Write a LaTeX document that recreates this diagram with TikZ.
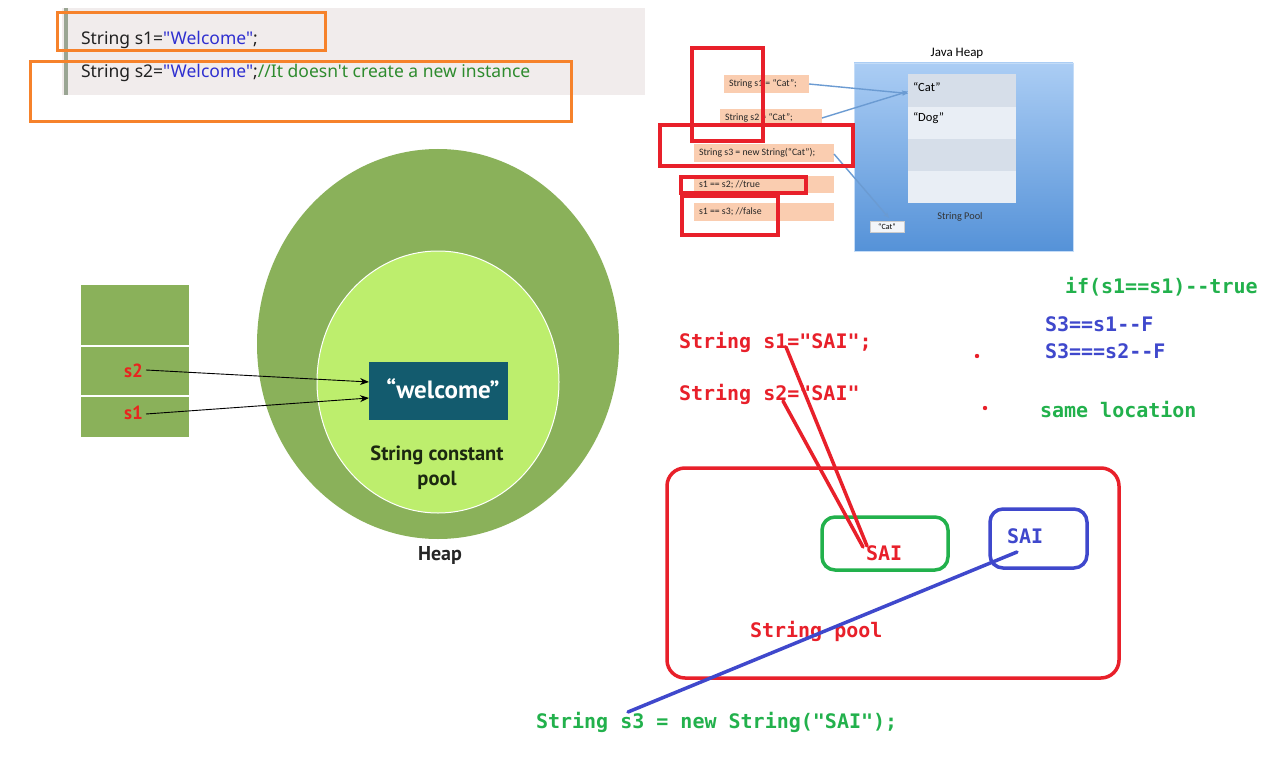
\documentclass[tikz,border=0pt]{standalone}
\usepackage{fontspec}
\setmainfont{Noto Sans}
\newfontfamily\codef[Ligatures=TeXOff]{Noto Sans}
\newfontfamily\monof[Ligatures=TeXOff]{DejaVu Sans Mono}
\newfontfamily\diagf{PT Sans}
\newfontfamily\heapf{Carlito}
\usetikzlibrary{arrows.meta,shapes.geometric}
\definecolor{orangeb}{HTML}{F6822B}
\definecolor{codebg}{HTML}{F1ECEC}
\definecolor{codebar}{HTML}{9AA593}
\definecolor{codeblack}{HTML}{222222}
\definecolor{codeblue}{HTML}{2F2FD0}
\definecolor{codegreen}{HTML}{2E8B2E}
\definecolor{heapgreen}{HTML}{8AB15A}
\definecolor{poolgreen}{HTML}{BDEE6D}
\definecolor{tealbox}{HTML}{135B6E}
\definecolor{darktext}{HTML}{1C2810}
\definecolor{lblred}{HTML}{E8251F}
\definecolor{pred}{HTML}{E8202A}
\definecolor{pgreen}{HTML}{22B14C}
\definecolor{pblue}{HTML}{3F48CC}
\definecolor{salmon}{HTML}{FACDB0}
\definecolor{jblueT}{HTML}{ABCDF4}
\definecolor{jblueB}{HTML}{5592D8}
\definecolor{rowA}{HTML}{D6DEE9}
\definecolor{rowB}{HTML}{E9EEF5}
\definecolor{jarrow}{HTML}{6B9BD2}
\begin{document}
\begin{tikzpicture}[x=1pt,y=-1pt,
  every node/.style={inner sep=0pt, outer sep=0pt},
  nw/.style={anchor=north west},
  obox/.style={nw, draw=orangeb, line width=3pt},
  rbox/.style={nw, draw=pred, line width=3.5pt},
  sbox/.style={nw, fill=salmon, minimum height=18pt},
  stxt/.style={anchor=west, font=\heapf\fontsize{9.8}{11}\selectfont, text=black!85},
  row/.style={nw, minimum width=108pt},
  cell/.style={nw, fill=heapgreen, draw=white, line width=1.5pt, minimum width=110pt},
  codetxt/.style={anchor=west, font=\codef\fontsize{17.5}{20}\selectfont},
  mono/.style={anchor=west, font=\monof\bfseries\fontsize{20}{24}\selectfont},
  monor/.style={mono, text=pred},
  pen/.style={line width=3.5pt, line cap=round},
  blk/.style={-{Stealth[length=9pt,width=7pt]}, line width=0.9pt},
  jarr/.style={-{Stealth[length=6pt,width=5pt]}, draw=jarrow, line width=1.4pt}
]
\useasboundingbox (0,0) rectangle (1280,781);
\fill[white] (0,0) rectangle (1280,781);

% ---------- top-left code box ----------
\node[nw, fill=codebg, minimum width=583pt, minimum height=87pt] (codebox) at (62,8) {};
\node[nw, fill=codebar, minimum width=4pt, minimum height=87pt] (codebar) at (64,8) {};
\node[codetxt] (c1) at (81,40) {\color{codeblack}String s1=\color{codeblue}"Welcome"\color{codeblack};};
\node[codetxt] (c2) at (81,73) {\color{codeblack}String s2=\color{codeblue}"Welcome"\color{codeblack};\color{codegreen}//It doesn't create a new instance};
\node[obox, minimum width=268pt, minimum height=38pt] (o1) at (57,13) {};
\node[obox, minimum width=541pt, minimum height=60pt] (o2) at (30,62) {};

% ---------- Java heap picture ----------
\node[nw, minimum width=219pt, minimum height=188pt, top color=jblueT, bottom color=jblueB, draw=jblueT!70!white, line width=0.6pt] (jheap) at (854,63) {};
\node[font=\heapf\fontsize{13}{15}\selectfont] (jtitle) at (957,53) {Java Heap};
\node[row, fill=rowA, minimum height=33pt] (row1) at (908,74) {};
\node[row, fill=rowB, minimum height=32pt] (row2) at (908,107) {};
\node[row, fill=rowA, minimum height=32pt] (row3) at (908,139) {};
\node[row, fill=rowB, minimum height=32pt] (row4) at (908,171) {};
\node[anchor=west, font=\heapf\fontsize{12.5}{14}\selectfont] (tcat) at (913,87) {“Cat”};
\node[anchor=west, font=\heapf\fontsize{12.5}{14}\selectfont] (tdog) at (913,118) {“Dog”};
\node[font=\heapf\fontsize{10.3}{12}\selectfont, text=black!80] (spool) at (960,217) {String Pool};
\node[nw, fill=rowB!60!white, draw=gray!40, line width=0.4pt, minimum width=34pt, minimum height=11pt] (catsmall) at (870,221) {};
\node[font=\heapf\fontsize{8}{9}\selectfont] (catsmalltxt) at (catsmall.center) {“Cat”};

\node[sbox, minimum width=85pt] (sb1) at (724,75) {};
\node[sbox, minimum width=102pt] (sb2) at (720,109) {};
\node[sbox, minimum width=140pt] (sb3) at (694,144) {};
\node[sbox, minimum width=140pt, minimum height=17pt] (sb4) at (694,176) {};
\node[sbox, minimum width=140pt] (sb5) at (694,203) {};
\node[stxt] (st1) at ([xshift=5pt]sb1.west) {String s1 = “Cat”;};
\node[stxt] (st2) at ([xshift=5pt]sb2.west) {String s2 = “Cat”;};
\node[stxt] (st3) at ([xshift=5pt]sb3.west) {String s3 = new String(“Cat”);};
\node[stxt] (st4) at ([xshift=5pt]sb4.west) {s1 == s2; //true};
\node[stxt] (st5) at ([xshift=5pt]sb5.west) {s1 == s3; //false};

\draw[jarr] (sb1.east) -- ([yshift=-3pt]row1.west);
\draw[jarr] (sb2.east) -- ([yshift=-1pt]row1.west);
\draw[jarr] ([yshift=-1pt]sb3.east) -- ([xshift=2pt,yshift=3pt]catsmall.north);

\node[rbox, minimum width=71pt, minimum height=93pt] (rb1) at (692,48) {};
\node[rbox, minimum width=193pt, minimum height=41pt] (rb2) at (660,125) {};
\node[rbox, minimum width=125pt, minimum height=16pt] (rb3) at (681,177) {};
\node[rbox, minimum width=96pt, minimum height=39pt] (rb4) at (682,196) {};

% ---------- left heap diagram ----------
\node[cell, minimum height=62pt] (cell1) at (80,284) {};
\node[cell, minimum height=50pt] (cell2) at (80,346) {};
\node[cell, minimum height=42pt] (cell3) at (80,396) {};
\node[ellipse, fill=heapgreen, minimum width=362pt, minimum height=390pt] (heap) at (438,344) {};
\node[ellipse, fill=poolgreen, draw=white, line width=1pt, minimum width=242pt, minimum height=262pt] (pool) at (438,382) {};
\node[fill=tealbox, minimum width=139pt, minimum height=58pt] (welcome) at (438.5,391) {};
\node[font=\diagf\bfseries\fontsize{25}{28}\selectfont, text=white] (welcometxt) at (443,389) {“welcome”};
\node[font=\diagf\bfseries\fontsize{20.5}{24}\selectfont, text=darktext] (scp1) at (437,455) {String constant};
\node[font=\diagf\bfseries\fontsize{20.5}{24}\selectfont, text=darktext] (scp2) at (437,480) {pool};
\node[font=\diagf\bfseries\fontsize{20}{24}\selectfont, text=black!85] (heaplbl) at (440,555) {Heap};
\node[anchor=east, font=\diagf\bfseries\fontsize{19}{22}\selectfont, text=lblred] (s2lbl) at (143,371) {s2};
\node[anchor=east, font=\diagf\bfseries\fontsize{19}{22}\selectfont, text=lblred] (s1lbl) at (143,413) {s1};
\draw[blk] ([xshift=3pt,yshift=1pt]s2lbl.east) -- ([yshift=9pt]welcome.west);
\draw[blk] ([xshift=3pt,yshift=-1pt]s1lbl.east) -- ([yshift=-7pt]welcome.west);

% ---------- right hand-drawn annotations ----------
\node[mono, text=pgreen] (iftxt) at (1065,287) {if(s1==s1)--true};
\node[mono, text=pblue] (f1) at (1045,324) {S3==s1--F};
\node[mono, text=pblue] (f2) at (1045,351) {S3===s2--F};
\node[mono, text=pgreen] (same) at (1040,410) {same location};
\fill[pred] (977,356) circle (2.2pt);
\fill[pred] (985,408) circle (2.2pt);
\node[monor] (rs1) at (679,342) {String s1="SAI";};
\node[monor] (rs2) at (679,394) {String s2="SAI"};

\node[nw, draw=pred, line width=3.5pt, rounded corners=18pt, minimum width=452pt, minimum height=210pt] (poolbox) at (667,468) {};
\node[nw, draw=pgreen, line width=3.5pt, rounded corners=13pt, minimum width=126pt, minimum height=53pt] (gbox) at (822,517) {};
\node[nw, draw=pblue, line width=3.5pt, rounded corners=13pt, minimum width=97pt, minimum height=59pt] (bbox) at (990,509) {};
\node[mono, text=pred] (saired) at (866,553) {SAI};
\node[mono, text=pblue] (saiblue) at (1007,536) {SAI};
\node[mono, text=pred] (pooltxt) at (750,631) {String pool};
\node[mono, text=pgreen] (s3txt) at (536,722) {String s3 = new String("SAI");};

\coordinate (a1) at (786,347);
\coordinate (a2) at (783,401);
\coordinate (e1) at (867,546);
\coordinate (e2) at (863,547);
\draw[pen, draw=pred] (a1) -- (e1);
\draw[pen, draw=pred] (a2) -- (e2);
\coordinate (b1) at (1017,552);
\coordinate (b2) at (628,712);
\draw[pen, draw=pblue] (b1) -- (b2);
\end{tikzpicture}
\end{document}
